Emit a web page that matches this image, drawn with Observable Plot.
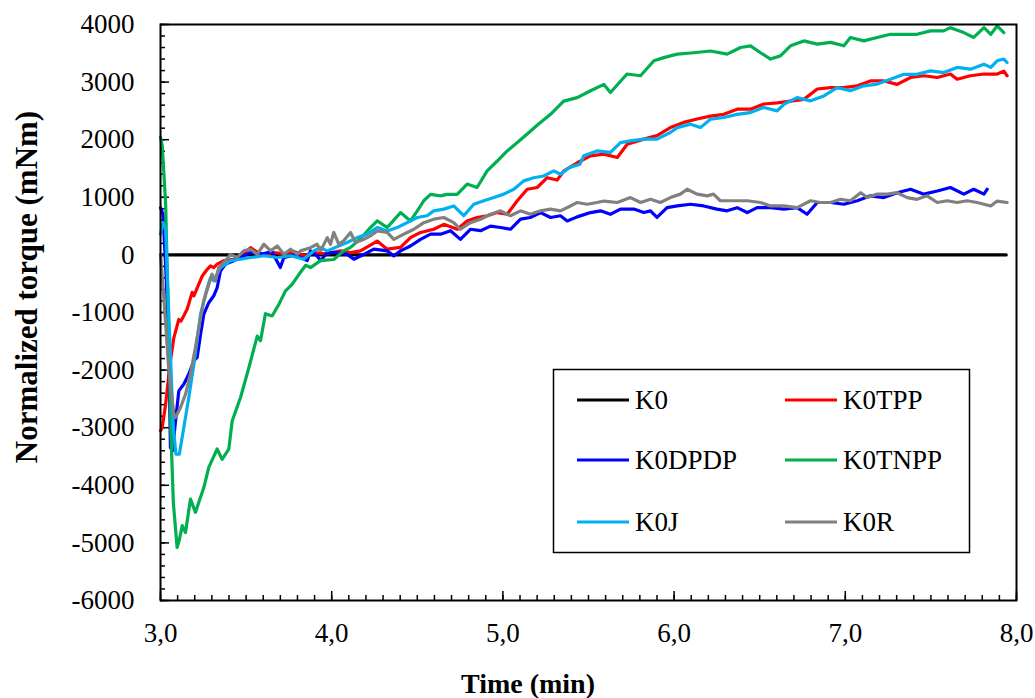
<!DOCTYPE html>
<html><head><meta charset="utf-8">
<script src="https://cdn.jsdelivr.net/npm/d3@7"></script>
<script src="https://cdn.jsdelivr.net/npm/@observablehq/plot@0.6"></script>
<style>body{margin:0;background:#fff;} #chart{position:relative;width:1035px;height:698px;}</style>
</head><body><div id="chart"></div>
<script>
// ---- data (time in min, normalized torque in mNm) ----
const seriesNames = ["K0","K0TPP","K0DPDP","K0TNPP","K0J","K0R"];
const seriesColors = ["#000000","#FF0000","#0000FF","#00B050","#00B0F0","#808080"];
const xTicks = [3,4,5,6,7,8];
const yTicks = [-6000,-5000,-4000,-3000,-2000,-1000,0,1000,2000,3000,4000];

const K0 = [[3.0,0],[7.94,0]];
const K0TPP = [[3.000,-3050],[3.010,-3000],[3.030,-2590],[3.058,-1840],[3.078,-1440],[3.107,-1120],[3.120,-1150],[3.156,-940],[3.185,-650],[3.195,-710],[3.244,-365],[3.273,-250],[3.292,-190],[3.311,-220],[3.331,-160],[3.370,-100],[3.428,-75],[3.486,10],[3.526,125],[3.584,10],[3.662,40],[3.72,20],[3.78,60],[3.84,-20],[3.90,40],[3.96,20],[4.051,70],[4.11,40],[4.168,70],[4.266,240],[4.324,100],[4.402,130],[4.46,300],[4.519,390],[4.596,445],[4.655,530],[4.733,445],[4.791,590],[4.849,650],[4.908,680],[4.967,735],[5.025,705],[5.084,940],[5.142,1140],[5.2,1170],[5.259,1340],[5.317,1300],[5.357,1460],[5.434,1600],[5.512,1720],[5.59,1750],[5.668,1690],[5.726,1920],[5.823,2010],[5.9,2070],[5.978,2210],[6.056,2300],[6.134,2360],[6.212,2410],[6.29,2440],[6.368,2530],[6.446,2530],[6.524,2620],[6.602,2640],[6.68,2670],[6.758,2700],[6.836,2880],[6.914,2905],[6.992,2905],[7.07,2935],[7.147,3020],[7.225,3020],[7.303,2960],[7.381,3080],[7.459,3110],[7.537,3080],[7.614,3140],[7.653,3050],[7.731,3110],[7.81,3140],[7.887,3140],[7.926,3190],[7.945,3110]];
const K0DPDP = [[3.000,820],[3.015,700],[3.035,-500],[3.049,-1720],[3.058,-3345],[3.070,-3400],[3.088,-2880],[3.107,-2360],[3.136,-2245],[3.165,-2070],[3.195,-1840],[3.214,-1780],[3.234,-1380],[3.253,-1030],[3.282,-830],[3.311,-710],[3.331,-570],[3.350,-280],[3.380,-160],[3.428,-100],[3.467,-45],[3.526,40],[3.60,20],[3.65,60],[3.70,-220],[3.72,-50],[3.78,0],[3.818,-45],[3.857,-100],[3.876,70],[3.915,-20],[3.935,-100],[3.974,40],[4.032,40],[4.09,10],[4.13,-75],[4.188,10],[4.246,100],[4.324,70],[4.363,-20],[4.402,70],[4.46,155],[4.519,270],[4.577,360],[4.636,360],[4.694,420],[4.752,270],[4.81,445],[4.869,420],[4.928,500],[4.986,475],[5.044,445],[5.103,620],[5.16,650],[5.22,735],[5.278,650],[5.336,680],[5.376,590],[5.434,660],[5.512,735],[5.57,765],[5.628,705],[5.687,795],[5.765,795],[5.823,735],[5.862,765],[5.9,650],[5.959,820],[6.018,850],[6.096,880],[6.173,850],[6.25,795],[6.31,765],[6.368,820],[6.427,735],[6.485,820],[6.563,820],[6.641,795],[6.719,820],[6.777,705],[6.836,910],[6.914,910],[6.992,880],[7.07,940],[7.147,1025],[7.225,995],[7.303,1080],[7.381,1140],[7.459,1055],[7.537,1110],[7.614,1170],[7.692,1055],[7.75,1140],[7.81,1055],[7.829,1140]];
const K0TNPP = [[3.000,2040],[3.010,1900],[3.030,885],[3.045,-1000],[3.06,-3000],[3.075,-4300],[3.097,-5080],[3.110,-4950],[3.127,-4700],[3.146,-4820],[3.175,-4240],[3.204,-4470],[3.253,-4040],[3.282,-3690],[3.331,-3370],[3.360,-3550],[3.399,-3370],[3.419,-2880],[3.467,-2480],[3.516,-1960],[3.565,-1410],[3.584,-1490],[3.613,-1020],[3.652,-1060],[3.691,-860],[3.730,-625],[3.769,-510],[3.818,-300],[3.848,-180],[3.876,-220],[3.935,-100],[4.012,-80],[4.07,70],[4.11,130],[4.168,280],[4.226,475],[4.266,590],[4.324,475],[4.402,735],[4.46,590],[4.5,765],[4.538,940],[4.577,1050],[4.636,1025],[4.674,1050],[4.733,1050],[4.791,1230],[4.849,1170],[4.908,1460],[4.967,1630],[5.025,1805],[5.084,1950],[5.142,2100],[5.2,2250],[5.278,2440],[5.355,2670],[5.434,2730],[5.512,2850],[5.59,2960],[5.628,2820],[5.725,3140],[5.804,3110],[5.882,3370],[5.94,3425],[6.018,3485],[6.115,3510],[6.213,3540],[6.31,3485],[6.388,3600],[6.446,3630],[6.505,3510],[6.563,3400],[6.621,3455],[6.68,3630],[6.758,3715],[6.836,3660],[6.914,3690],[6.992,3630],[7.03,3775],[7.108,3715],[7.186,3775],[7.264,3830],[7.342,3830],[7.419,3830],[7.498,3890],[7.575,3890],[7.614,3945],[7.692,3860],[7.75,3775],[7.81,3945],[7.85,3830],[7.887,3975],[7.926,3860]];
const K0J = [[3.000,360],[3.015,560],[3.030,450],[3.05,-1150],[3.075,-3000],[3.090,-3460],[3.110,-3460],[3.136,-3000],[3.165,-2480],[3.195,-1900],[3.234,-1030],[3.263,-680],[3.292,-395],[3.311,-450],[3.35,-220],[3.409,-100],[3.467,-75],[3.526,-45],[3.604,-15],[3.682,-45],[3.76,-15],[3.837,-75],[3.895,70],[3.935,125],[3.974,70],[4.09,215],[4.149,300],[4.207,360],[4.266,475],[4.324,415],[4.383,475],[4.441,560],[4.5,650],[4.557,680],[4.596,765],[4.655,795],[4.713,850],[4.771,680],[4.83,880],[4.888,940],[4.947,995],[5.005,1055],[5.064,1140],[5.122,1285],[5.18,1340],[5.238,1370],[5.297,1460],[5.336,1400],[5.39,1520],[5.45,1575],[5.472,1720],[5.55,1805],[5.628,1780],[5.687,1950],[5.745,1980],[5.823,2010],[5.9,2010],[5.978,2125],[6.018,2210],[6.096,2270],[6.154,2210],[6.212,2355],[6.29,2385],[6.368,2440],[6.446,2470],[6.524,2560],[6.602,2500],[6.641,2615],[6.719,2730],[6.797,2675],[6.875,2760],[6.952,2905],[7.03,2850],[7.108,2935],[7.186,2965],[7.264,3050],[7.342,3135],[7.419,3135],[7.498,3195],[7.575,3165],[7.653,3255],[7.731,3225],[7.81,3310],[7.85,3255],[7.887,3370],[7.926,3400],[7.945,3340]];
const K0R = [[3.000,10],[3.018,-680],[3.049,-2010],[3.078,-2770],[3.088,-2820],[3.117,-2650],[3.146,-2420],[3.175,-2070],[3.204,-1610],[3.234,-1090],[3.253,-800],[3.282,-510],[3.301,-335],[3.321,-450],[3.34,-220],[3.38,-100],[3.409,10],[3.448,-45],[3.486,70],[3.526,100],[3.565,10],[3.604,185],[3.643,70],[3.682,155],[3.721,10],[3.76,100],[3.799,10],[3.818,70],[3.876,125],[3.915,185],[3.935,70],[3.974,300],[3.993,185],[4.012,390],[4.041,185],[4.07,245],[4.11,390],[4.139,215],[4.188,270],[4.226,330],[4.266,415],[4.324,390],[4.363,270],[4.421,360],[4.48,445],[4.538,560],[4.596,620],[4.655,650],[4.713,560],[4.752,445],[4.81,560],[4.869,620],[4.928,705],[4.986,765],[5.044,680],[5.103,765],[5.16,705],[5.22,765],[5.278,795],[5.336,765],[5.395,850],[5.434,910],[5.492,880],[5.55,910],[5.59,935],[5.668,910],[5.745,995],[5.804,910],[5.862,965],[5.92,910],[5.978,995],[6.037,1055],[6.076,1140],[6.134,1055],[6.193,1025],[6.23,1055],[6.27,940],[6.349,940],[6.427,940],[6.505,910],[6.563,850],[6.641,850],[6.719,820],[6.797,940],[6.855,910],[6.914,910],[6.972,965],[7.03,940],[7.09,1080],[7.128,995],[7.186,1055],[7.245,1055],[7.303,1080],[7.362,995],[7.419,965],[7.478,1025],[7.537,910],[7.595,940],[7.653,910],[7.712,940],[7.77,910],[7.85,850],[7.887,935],[7.945,910]];

const seriesData = [K0, K0TPP, K0DPDP, K0TNPP, K0J, K0R];

// ---- build table ----
const rows = [];
seriesData.forEach((arr, i) => arr.forEach(([t, v]) => rows.push({series: seriesNames[i], t, v})));
const xMinor = d3.range(30, 81).map(d => d / 10);
const yMinor = d3.range(-6000, 4001, 200);

const FONT = "'Liberation Serif', 'Times New Roman', Times, serif";

const plot = Plot.plot({
  width: 1035, height: 698,
  marginLeft: 160, marginRight: 19, marginTop: 24, marginBottom: 98,
  style: {fontFamily: FONT, fontSize: "27px", color: "#000", background: "#fff", overflow: "visible"},
  x: {domain: [3, 8]},
  y: {domain: [-6000, 4000]},
  color: {domain: seriesNames, range: seriesColors},
  marks: [
    Plot.axisY({ticks: yMinor, tickSize: -5, fill: "none", label: null, strokeWidth: 1.5}),
    Plot.axisY({ticks: yTicks, tickSize: -9, fill: "none", label: null, strokeWidth: 1.5}),
    Plot.axisY({ticks: yTicks, tickSize: 0, tickPadding: 26, label: null, tickFormat: d => String(d)}),
    Plot.axisX({ticks: xMinor, tickSize: -5, fill: "none", label: null, strokeWidth: 1.5}),
    Plot.axisX({ticks: xTicks, tickSize: -9, fill: "none", label: null, strokeWidth: 1.5}),
    Plot.axisX({ticks: xTicks, tickSize: 0, tickPadding: 22, label: null, tickFormat: d => d.toFixed(1).replace(".", ",")}),
    Plot.line(rows, {x: "t", y: "v", z: "series", stroke: "series", strokeWidth: 3.2, strokeLinejoin: "round", strokeLinecap: "round"}),
    Plot.frame({stroke: "#000", strokeWidth: 2})
  ]
});

const svg = d3.select(plot);
svg.append("text")
  .attr("x", 528).attr("y", 693)
  .attr("text-anchor", "middle").attr("font-weight", "bold")
  .attr("font-size", 28).attr("font-family", FONT).attr("fill", "#000")
  .text("Time (min)");
svg.append("text")
  .attr("transform", "translate(37,287) rotate(-90)")
  .attr("text-anchor", "middle").attr("font-weight", "bold")
  .attr("font-size", 31).attr("font-family", FONT).attr("fill", "#000")
  .text("Normalized torque (mNm)");

// legend
const lg = svg.append("g").attr("font-family", FONT).attr("font-size", 27).attr("text-anchor", "start");
lg.append("rect").attr("x", 553.5).attr("y", 369.5).attr("width", 416).attr("height", 183)
  .attr("fill", "#fff").attr("stroke", "#000").attr("stroke-width", 1.5);
const legendPos = [[577, 400], [785, 400], [577, 460], [785, 460], [577, 522], [785, 522]];
seriesNames.forEach((name, i) => {
  const [lx, ly] = legendPos[i];
  lg.append("line").attr("x1", lx).attr("x2", lx + 52).attr("y1", ly).attr("y2", ly)
    .attr("stroke", seriesColors[i]).attr("stroke-width", 3);
  lg.append("text").attr("x", lx + 58).attr("y", ly).attr("dy", "0.35em")
    .attr("text-anchor", "start").attr("fill", "#000").text(name);
});

document.getElementById("chart").appendChild(plot);
</script>
</body></html>
